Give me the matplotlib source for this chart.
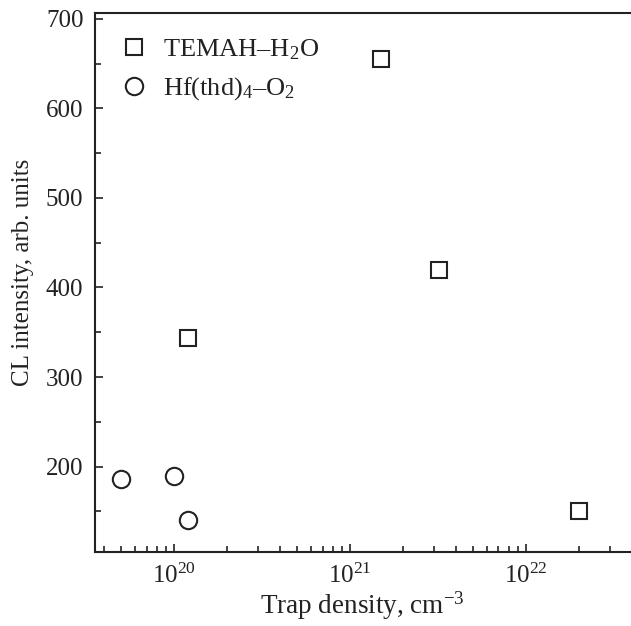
import matplotlib
matplotlib.use('Agg')

import numpy as np
import matplotlib.pyplot as plt
from matplotlib.ticker import LogLocator, MultipleLocator, NullFormatter

plt.rcParams['font.family'] = ['Liberation Serif', 'DejaVu Serif']
plt.rcParams['mathtext.fontset'] = 'custom'
plt.rcParams['mathtext.rm'] = 'Liberation Serif'
plt.rcParams['mathtext.it'] = 'Liberation Serif:italic'

# Data
temah_x = np.array([1.2e20, 1.5e21, 3.2e21, 2.0e22])
temah_y = np.array([344, 655, 420, 150])
hfthd_x = np.array([5.0e19, 1.0e20, 1.2e20])
hfthd_y = np.array([186, 190, 140])

fig = plt.figure(figsize=(6.31, 6.26), dpi=100)
ax = fig.add_axes([0.1498, 0.1187, 0.8502, 0.8613])

ax.plot(temah_x, temah_y, linestyle='none', marker='s', markersize=11,
        markerfacecolor='white', markeredgecolor='#222222', markeredgewidth=1.5,
        label='TEMAH–H$_2$O')
ax.plot(hfthd_x, hfthd_y, linestyle='none', marker='o', markersize=12.5,
        markerfacecolor='white', markeredgecolor='#222222', markeredgewidth=1.5,
        label='Hf(thd)$_4$–O$_2$')

ax.set_xscale('log')
ax.set_xlim(3.53e19, 3.97e22)
ax.set_ylim(105, 707)

ax.xaxis.set_major_locator(LogLocator(base=10, numticks=10))
ax.xaxis.set_minor_locator(LogLocator(base=10, subs=np.arange(2, 10), numticks=10))
ax.xaxis.set_minor_formatter(NullFormatter())
ax.yaxis.set_major_locator(MultipleLocator(100))
ax.yaxis.set_minor_locator(MultipleLocator(50))

for s in ['left', 'bottom', 'top']:
    ax.spines[s].set_linewidth(1.5)
    ax.spines[s].set_color('#222222')
ax.spines['right'].set_visible(False)

ax.tick_params(which='both', direction='in', top=False, right=False,
               color='#222222', width=1.2, labelsize=18, labelcolor='#222222')
ax.tick_params(which='major', length=6)
ax.tick_params(axis='x', which='major', pad=9)
ax.tick_params(axis='y', which='major', pad=8)
ax.tick_params(which='minor', length=4)

ax.set_xlabel('Trap density, cm$^{-3}$', fontsize=19.5, color='#222222', labelpad=1)
ax.set_ylabel('CL intensity, arb. units', fontsize=18, color='#222222')
ax.yaxis.set_label_coords(-0.112, 0.518)

ax.legend(loc='upper left', bbox_to_anchor=(0.0, 1.0), frameon=False,
          fontsize=19, handletextpad=0.55, labelspacing=0.5, borderaxespad=0.55,
          handlelength=1.1, labelcolor='#222222')

fig.savefig('out.png', dpi=100)
